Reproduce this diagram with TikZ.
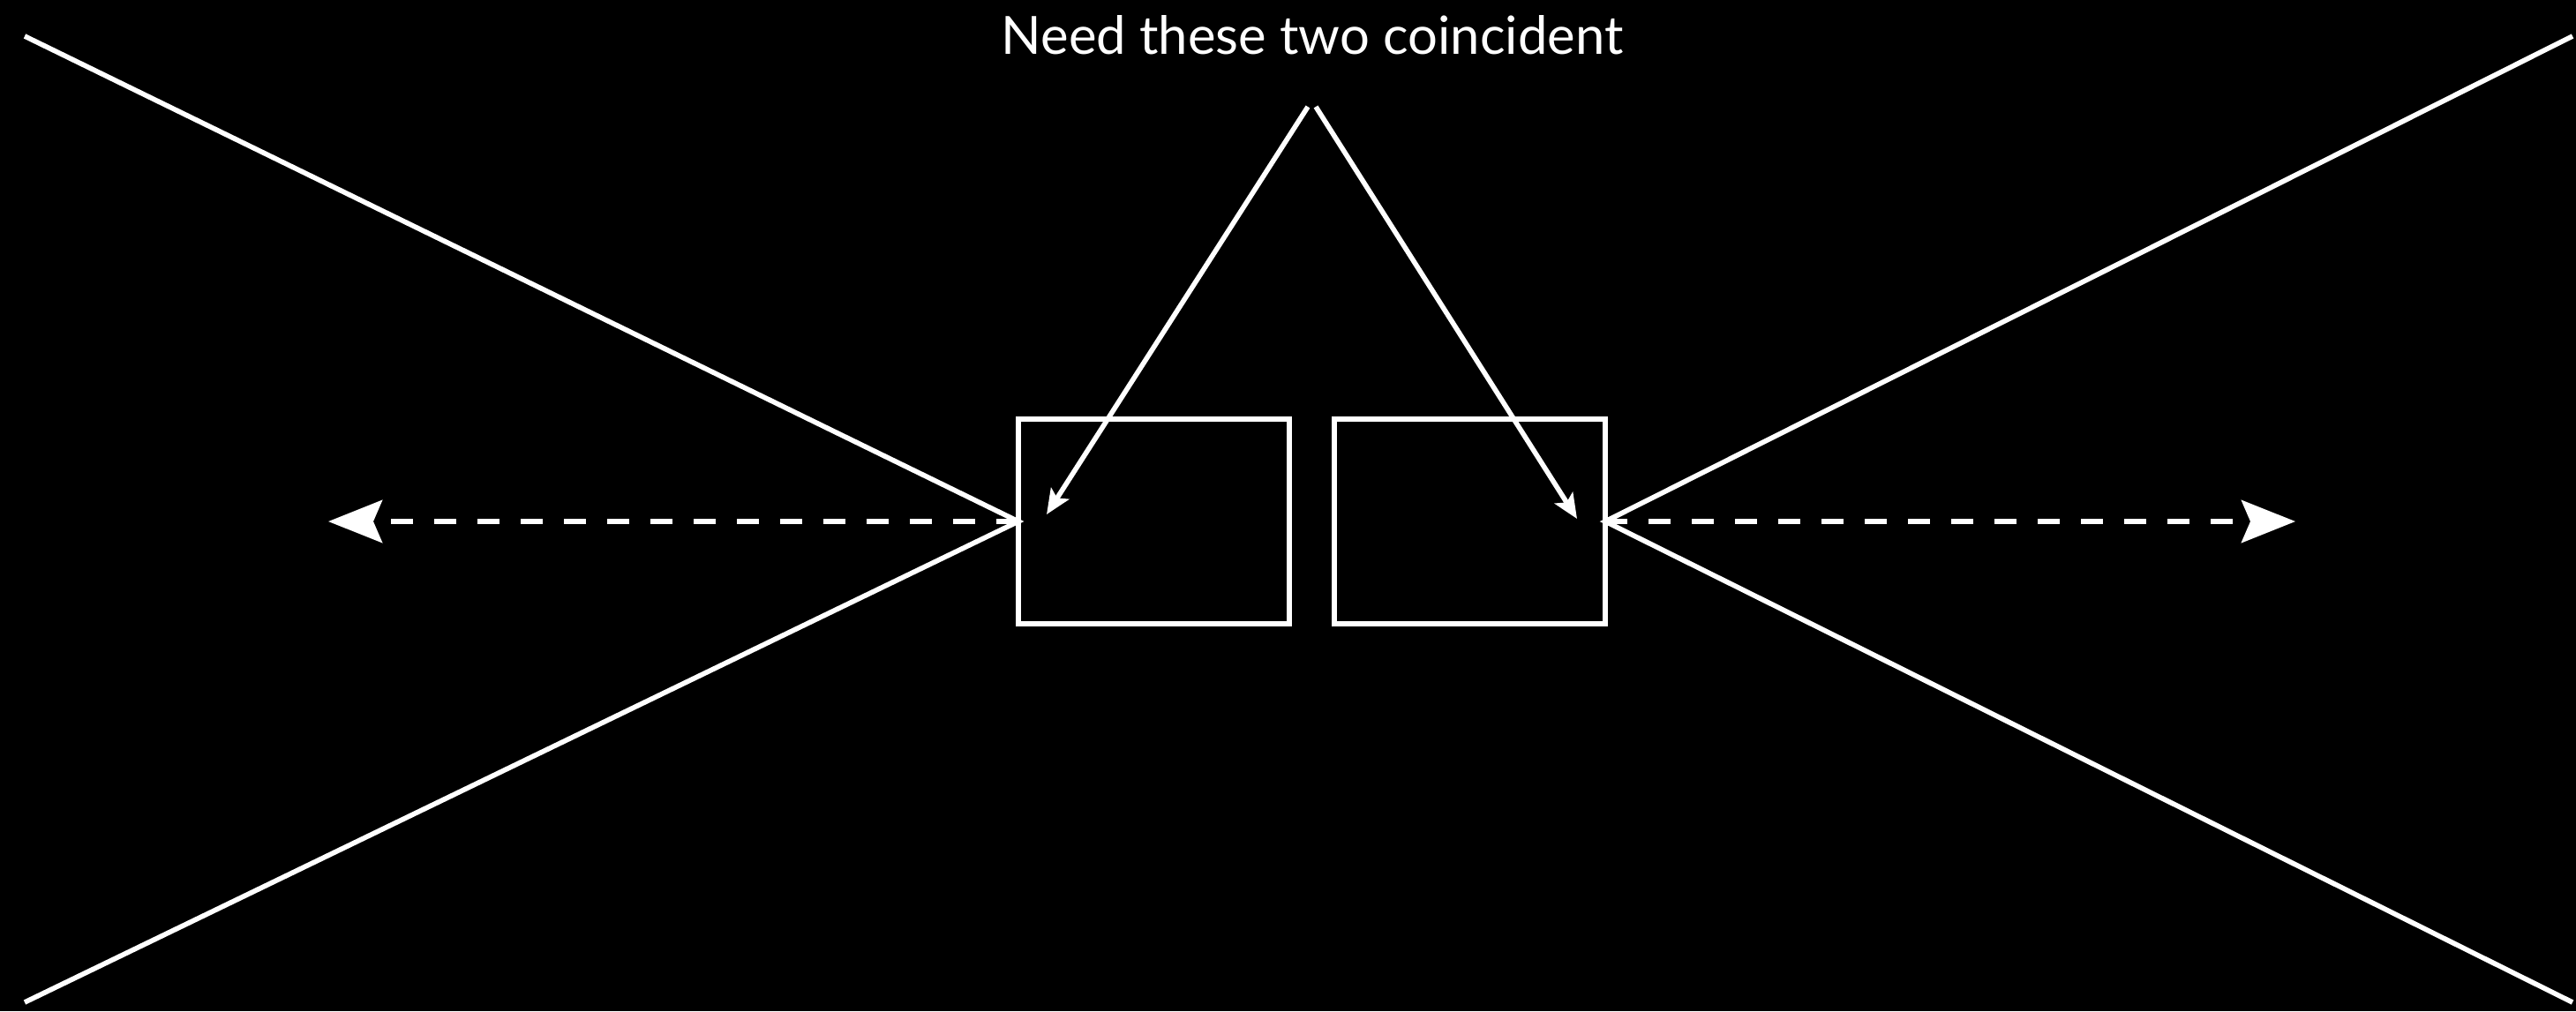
\documentclass[tikz,border=0pt]{standalone}
\usepackage{fontspec}
\setmainfont{Lato}
\usetikzlibrary{arrows.meta,positioning}

\begin{document}
\begin{tikzpicture}[
  font=\fontsize{17}{20}\selectfont,
  viewbox/.style={rectangle, draw=white, line width=1.6pt, minimum width=3.07cm, minimum height=2.32cm, inner sep=0pt, outer sep=0pt},
  rayline/.style={white, line width=1.6pt},
  pointer/.style={-{Stealth[length=2.8mm, width=2.4mm, inset=0.6mm]}, white, line width=1.6pt},
  pullarrow/.style={-{Stealth[length=6.1mm, width=4.8mm, inset=1mm]}, white, line width=1.9pt, dash pattern=on 2.5mm off 2.4mm}
]
\fill[black] (0,0) rectangle (29.19,-11.46);
\useasboundingbox (0,0) rectangle (29.19,-11.46);

\node[text=white] (title) at (14.87,-0.40) {Need these two coincident};
\node[viewbox] (boxL) at (13.075,-5.91) {};
\node[viewbox, right=0.51cm of boxL] (boxR) {};

% rays to the corners
\coordinate (cornerTL) at (0.28,-0.41);
\coordinate (cornerBL) at (0.28,-11.36);
\coordinate (cornerTR) at (29.15,-0.41);
\coordinate (cornerBR) at (29.15,-11.36);
\draw[rayline] (cornerTL) -- (boxL.west) -- (cornerBL);
\draw[rayline] (cornerTR) -- (boxR.east) -- (cornerBR);

% pointers from the label
\coordinate (apexL) at (14.82,-1.21);
\coordinate (apexR) at (14.91,-1.21);
\coordinate (tipL) at (11.86,-5.83);
\coordinate (tipR) at (17.87,-5.88);
\draw[pointer] (apexL) -- (tipL);
\draw[pointer] (apexR) -- (tipR);

% dashed pull arrows
\coordinate (endL) at (3.72,-5.91);
\coordinate (endR) at (26.01,-5.91);
\draw[pullarrow] (boxL.west) -- (endL);
\draw[pullarrow] (boxR.east) -- (endR);
\end{tikzpicture}
\end{document}
